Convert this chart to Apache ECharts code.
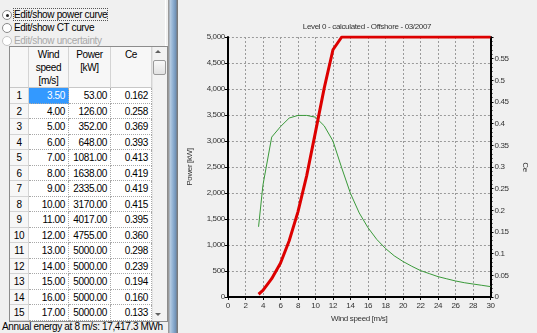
<!DOCTYPE html>
<html>
<head>
<meta charset="utf-8">
<script src="https://cdn.jsdelivr.net/npm/echarts@6/dist/echarts.min.js"></script>
<style>
  html, body {margin: 0; padding: 0; width: 537px; height: 333px; overflow: hidden; background: #f0f0f0;
    font-family: 'Liberation Sans', Arial, sans-serif; font-size: 10px; letter-spacing: -0.35px; color: #000;}
  .abs {position: absolute; box-sizing: border-box;}
  .radio {position: absolute; left: 2px; width: 10px; height: 10px; border-radius: 50%;
    border: 1px solid #8a8a8a; background: #fff; box-sizing: border-box;}
  .radio.on::after {content: ''; position: absolute; left: 2.5px; top: 2.5px; width: 3px; height: 3px;
    border-radius: 50%; background: #222;}
  .rlabel {position: absolute; left: 14px; line-height: 13px; white-space: nowrap;}
  .cell {position: absolute; box-sizing: border-box; background: #fff; text-align: right; padding-right: 3px;
    border-right: 1px dotted #a8a8a8; border-bottom: 1px dotted #a8a8a8; line-height: 15px; white-space: nowrap;}
  .num {position: absolute; box-sizing: border-box; background: #f7f7f7; text-align: center;
    border-right: 1px solid #d4d4d4; border-bottom: 1px solid #d4d4d4; line-height: 15px;}
  .hdr {position: absolute; box-sizing: border-box; background: #f7f7f7; text-align: center;
    border-right: 1px solid #d4d4d4; border-bottom: 1px solid #c8c8c8; line-height: 13px; padding-top: 1px;}
  #chart {position: absolute; left: 178px; top: 0; width: 359px; height: 333px;}
</style>
</head>
<body>
<div id="left" class="abs" style="left:0;top:0;width:168px;height:333px;"></div>
<div class="abs" style="left:165px;top:0;width:2px;height:46px;border-left:1px solid #fff;border-bottom:1px solid #fff;"></div>
<div class="abs" style="left:168px;top:0;width:10px;height:333px;
  background:linear-gradient(to right,#9a9a9a 0,#9a9a9a 1px,#b8cde3 2px,#8fb0d2 5px,#6f90b5 8px,#7a7a7a 9px,#7a7a7a 10px);"></div>
<div id="chart"></div>
<script>
  // wind speed [m/s], power [kW], Ce
  const windSpeed = [3.5, 4, 5, 6, 7, 8, 9, 10, 11, 12, 13, 14, 15, 16, 17, 18, 19, 20, 21, 22, 23, 24, 25, 26, 27, 28, 29, 30];
  const power = [53, 126, 352, 648, 1081, 1638, 2335, 3170, 4017, 4755, 5000, 5000, 5000, 5000, 5000,
    5000, 5000, 5000, 5000, 5000, 5000, 5000, 5000, 5000, 5000, 5000, 5000, 5000];
  const ce = [0.162, 0.258, 0.369, 0.393, 0.413, 0.419, 0.419, 0.415, 0.395, 0.360, 0.298, 0.239, 0.194, 0.160, 0.133,
    0.112, 0.095, 0.082, 0.071, 0.061, 0.054, 0.047, 0.042, 0.037, 0.033, 0.030, 0.027, 0.024];
  const tableRows = 15;
  const radioItems = ['Edit/show power curve', 'Edit/show CT curve', 'Edit/show uncertainty'];
  const headers = [['Wind', 'speed', '[m/s]'], ['Power', '[kW]'], ['Ce']];
  const statusText = 'Annual energy at 8 m/s: 17,417.3 MWh';
  const chartTitle = 'Level 0 - calculated - Offshore - 03/2007';

  // left panel: radios + table
  const left = document.getElementById('left');
  let html = '';
  radioItems.forEach((t, i) => {
    const y = 8 + i * 13;
    const dis = i === 2;
    html += `<div class="radio${i === 0 ? ' on' : ''}" style="top:${y + 2}px;${dis ? 'border-color:#c4c4c4;' : ''}"></div>`;
    html += `<div class="rlabel" style="top:${y}px;${dis ? 'color:#a8a8a8;' : ''}${i === 0 ? 'outline:1px dotted #555;outline-offset:-1px;padding:0 1px;left:13px;' : ''}">${t}</div>`;
  });
  const colX = [10, 29, 69, 111, 152];
  const hTop = 47, hH = 41, rowH = 15.5;
  html += `<div class="abs" style="left:9px;top:${hTop - 1}px;width:159px;height:${hH + tableRows * rowH + 2}px;border:1px solid #8c8c8c;background:#fff;"></div>`;
  html += `<div class="hdr" style="left:${colX[0]}px;top:${hTop}px;width:${colX[1] - colX[0]}px;height:${hH}px;"></div>`;
  headers.forEach((h, i) => {
    html += `<div class="hdr" style="left:${colX[i + 1]}px;top:${hTop}px;width:${colX[i + 2] - colX[i + 1]}px;height:${hH}px;">${h.join('<br>')}</div>`;
  });
  for (let r = 0; r < tableRows; r++) {
    const y = hTop + hH + r * rowH;
    html += `<div class="num" style="left:${colX[0]}px;top:${y}px;width:${colX[1] - colX[0]}px;height:${rowH}px;">${r + 1}</div>`;
    const vals = [windSpeed[r].toFixed(2), power[r].toFixed(2), ce[r].toFixed(3)];
    vals.forEach((v, c) => {
      const sel = r === 0 && c === 0;
      html += `<div class="cell" style="left:${colX[c + 1]}px;top:${y}px;width:${colX[c + 2] - colX[c + 1]}px;height:${rowH}px;${sel ? 'background:#3399ff;color:#fff;' : ''}">${v}</div>`;
    });
  }
  // scrollbar
  const sbH = hH + tableRows * rowH;
  html += `<div class="abs" style="left:152px;top:${hTop}px;width:15px;height:${sbH}px;background:#f2f2f2;border-left:1px solid #e4e4e4;"></div>`;
  html += `<div class="abs" style="left:155px;top:${hTop + 3}px;width:0;height:0;border-left:3px solid transparent;border-right:3px solid transparent;border-bottom:3px solid #606060;"></div>`;
  html += `<div class="abs" style="left:153px;top:${hTop + 13}px;width:13px;height:15px;background:linear-gradient(#f8f8f8,#e2e2e2);border:1px solid #9a9a9a;border-radius:2px;"></div>`;
  html += `<div class="abs" style="left:155px;top:${hTop + sbH - 8}px;width:0;height:0;border-left:3px solid transparent;border-right:3px solid transparent;border-top:3px solid #606060;"></div>`;
  html += `<div class="abs" style="left:2px;top:320px;line-height:13px;white-space:nowrap;">${statusText}</div>`;
  left.innerHTML = html;

  // chart
  const myChart = echarts.init(document.getElementById('chart'));
  const labelStyle = {color: '#333', fontSize: 8, fontFamily: 'Liberation Sans'};
  const axisLine = {show: true, lineStyle: {color: '#000', width: 2}};
  const dashed = {show: true, lineStyle: {color: '#9a9a9a', type: [2, 2], width: 1}};
  myChart.setOption({
    backgroundColor: '#f0f0f0',
    animation: false,
    title: {
      text: chartTitle, left: 184, top: 18, textAlign: 'center',
      textStyle: {fontSize: 8, fontWeight: 'normal', color: '#333', fontFamily: 'Liberation Sans'}
    },
    grid: {left: 46.5, right: 36, top: 37, bottom: 36},
    xAxis: {
      type: 'value', min: 0, max: 30, interval: 2,
      name: 'Wind speed [m/s]', nameLocation: 'middle', nameGap: 15,
      nameTextStyle: labelStyle,
      axisLine, axisTick: {show: true, length: 3, lineStyle: {color: '#000'}},
      axisLabel: {...labelStyle, margin: 5},
      splitLine: dashed
    },
    yAxis: [
      {
        type: 'value', min: 0, max: 5000, interval: 500,
        name: 'Power [kW]', nameLocation: 'middle', nameGap: 25, nameRotate: 90,
        nameTextStyle: labelStyle,
        axisLine, axisTick: {show: true, length: 3, lineStyle: {color: '#000'}},
        axisLabel: {...labelStyle, margin: 3, formatter: v => v.toLocaleString('en-US')},
        splitLine: dashed
      },
      {
        type: 'value', min: 0, max: 0.6, interval: 0.05, position: 'right',
        name: 'Ce', nameLocation: 'middle', nameGap: 22, nameRotate: -90,
        nameTextStyle: labelStyle,
        axisLine, axisTick: {show: true, length: 3, lineStyle: {color: '#000'}},
        minorTick: {show: true, splitNumber: 5, length: 2, lineStyle: {color: '#000'}},
        axisLabel: {...labelStyle, margin: 4, showMaxLabel: false},
        splitLine: {show: false}
      }
    ],
    series: [
      {
        name: 'Ce', type: 'line', yAxisIndex: 1, symbol: 'none',
        data: windSpeed.map((w, i) => [w, ce[i]]),
        lineStyle: {color: '#3a9a3a', width: 1}
      },
      {
        name: 'Power', type: 'line', yAxisIndex: 0, symbol: 'none',
        data: windSpeed.map((w, i) => [w, power[i]]),
        lineStyle: {color: '#dd0000', width: 3}
      }
    ]
  });
</script>
</body>
</html>
